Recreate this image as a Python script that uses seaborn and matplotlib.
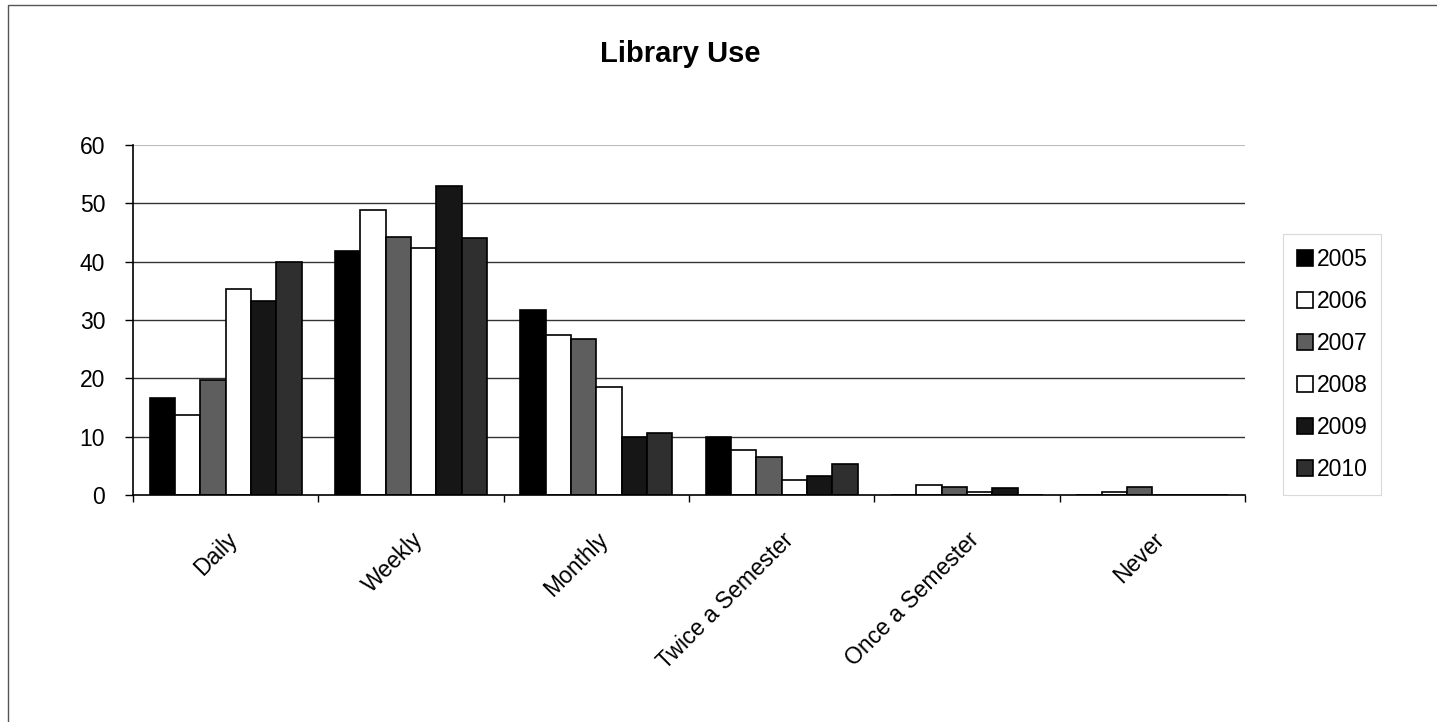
import numpy as np
import pandas as pd
import matplotlib
matplotlib.use('Agg')
import matplotlib.pyplot as plt
import seaborn as sns
from matplotlib.patches import Rectangle

# data
categories = ['Daily', 'Weekly', 'Monthly', 'Twice a Semester',
              'Once a Semester', 'Never']
years = ['2005', '2006', '2007', '2008', '2009', '2010']
v2005 = [16.7, 41.8, 31.8, 10.0, 0.0, 0.0]
v2006 = [13.8, 48.9, 27.5, 7.7, 1.7, 0.6]
v2007 = [19.8, 44.3, 26.7, 6.6, 1.3, 1.3]
v2008 = [35.4, 42.4, 18.6, 2.5, 0.6, 0.0]
v2009 = [33.3, 52.9, 9.9, 3.2, 1.2, 0.0]
v2010 = [39.9, 44.0, 10.7, 5.3, 0.0, 0.0]
year_colors = ['#000000', '#ffffff', '#5e5e5e', '#ffffff', '#161616', '#2f2f2f']

series = [v2005, v2006, v2007, v2008, v2009, v2010]
df = pd.DataFrame({
    'category': np.tile(categories, len(years)),
    'year': np.repeat(years, len(categories)),
    'value': np.concatenate(series),
})

sns.set_theme(style='white', rc={'text.color': 'black',
                                 'xtick.color': 'black',
                                 'ytick.color': 'black'})
plt.rcParams['font.family'] = ['Liberation Sans', 'DejaVu Sans']

fig = plt.figure(figsize=(14.37, 7.22), dpi=100)
ax = fig.add_axes([133 / 1437, 1 - 495 / 722, 1112 / 1437, 350 / 722])

sns.barplot(data=df, x='category', y='value', hue='year', order=categories,
            hue_order=years, palette=year_colors, width=0.82,
            edgecolor='black', linewidth=1.2, saturation=1, ax=ax)

ax.set_ylim(0, 60)
ax.set_xlim(-0.5, len(categories) - 0.5)
ax.set_yticks(range(0, 61, 10))
for yv in range(10, 51, 10):
    ax.axhline(yv, color='#333333', lw=1, zorder=0)
ax.axhline(60, color='#bbbbbb', lw=0.8, zorder=0)

ax.set_xlabel('')
ax.set_ylabel('')
ax.set_xticks(range(len(categories)))
ax.set_xticklabels(categories, rotation=45, ha='right', rotation_mode='anchor',
                   fontsize=16.5)
ax.set_xticks(np.arange(-0.5, len(categories), 1), minor=True)
ax.tick_params(axis='x', which='major', length=0, pad=24)
ax.tick_params(axis='x', which='minor', bottom=True, length=5, width=1,
               color='black', direction='out')
ax.tick_params(axis='y', left=True, length=6, width=1, color='black',
               labelsize=16.5, pad=14)

for side in ['top', 'right']:
    ax.spines[side].set_visible(False)
for side in ['left', 'bottom']:
    ax.spines[side].set_color('black')
    ax.spines[side].set_linewidth(1.2)

handles, labels = ax.get_legend_handles_labels()
ax.get_legend().remove()
leg = fig.legend(handles, labels, loc='upper left',
                 bbox_to_anchor=(1272 / 1437, 1 - 223 / 722),
                 fontsize=16.5, handlelength=0.7, handleheight=0.7,
                 handletextpad=0.15, labelspacing=0.83, borderpad=0.6,
                 frameon=True, fancybox=False)
leg.get_frame().set_edgecolor('#d0d0d0')
leg.get_frame().set_linewidth(0.8)

fig.text(680 / 1437, 1 - 54 / 722, 'Library Use', ha='center', va='center',
         fontsize=21, fontweight='bold')

# outer chart border (top and left edges visible)
fig.patches.append(Rectangle((8 / 1437, -0.1), 1.2, 1 - 5 / 722 + 0.1,
                             transform=fig.transFigure, fill=False,
                             edgecolor='#555555', lw=1))

fig.savefig('out.png', dpi=100)
